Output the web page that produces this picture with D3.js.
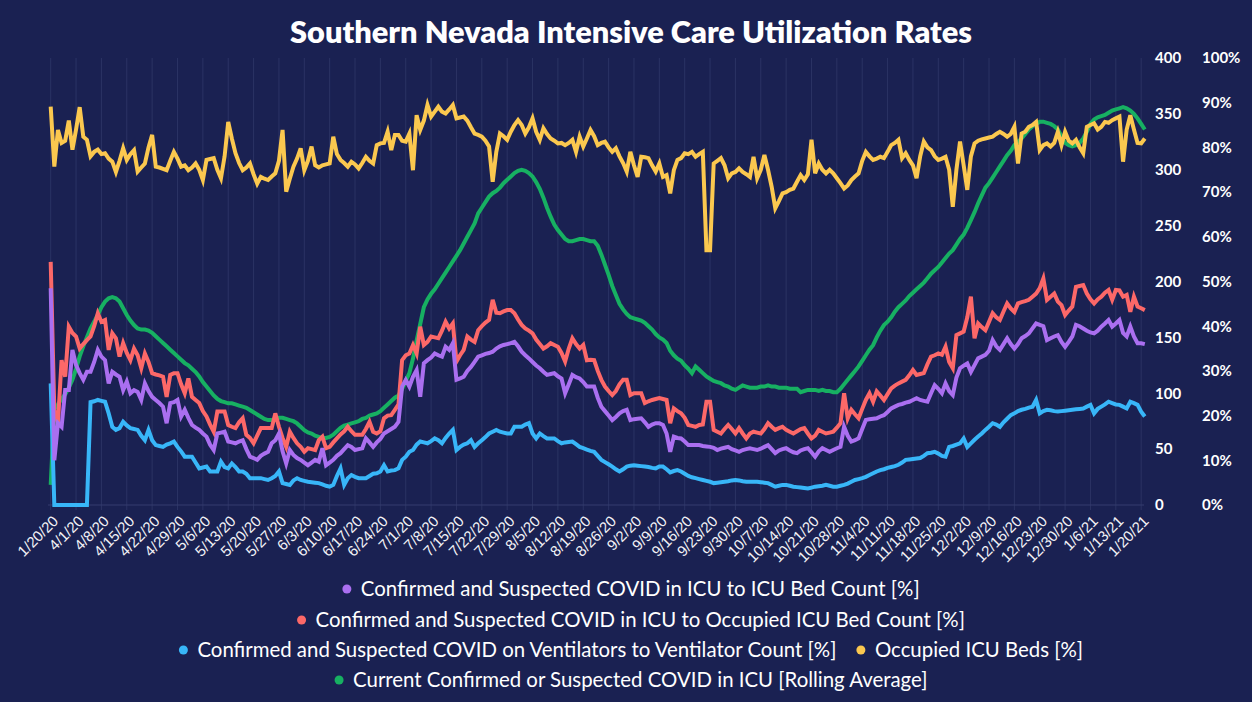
<!DOCTYPE html>
<html>
<head>
<meta charset="utf-8">
<script src="https://cdn.jsdelivr.net/npm/d3@7"></script>
<style>
  body { margin: 0; background: #ffffff; }
  svg { display: block; }
</style>
</head>
<body>
<div id="chart"></div>
<script>
// categories: first point 1/20/20, then daily from 3/26/20 to 1/21/21
const fmtDate = d3.timeFormat('%-m/%-d/%y');
const dates = ['1/20/20'].concat(
  d3.timeDay.range(new Date(2020, 2, 26), new Date(2021, 0, 22)).map(fmtDate)
);

const tickLabels = ['1/20/20','4/1/20','4/8/20','4/15/20','4/22/20','4/29/20','5/6/20','5/13/20',
  '5/20/20','5/27/20','6/3/20','6/10/20','6/17/20','6/24/20','7/1/20','7/8/20','7/15/20','7/22/20',
  '7/29/20','8/5/20','8/12/20','8/19/20','8/26/20','9/2/20','9/9/20','9/16/20','9/23/20','9/30/20',
  '10/7/20','10/14/20','10/21/20','10/28/20','11/4/20','11/11/20','11/18/20','11/25/20','12/2/20',
  '12/9/20','12/16/20','12/23/20','12/30/20','1/6/21','1/13/21','1/20/21'];

const countTicks = [0, 50, 100, 150, 200, 250, 300, 350, 400];
const pctTicks = [0, 10, 20, 30, 40, 50, 60, 70, 80, 90, 100];

// Current Confirmed or Suspected COVID in ICU [Rolling Average] (count, left scale)
const icuRolling = [
  18, 86, 90, 95, 99, 105, 112,
  122, 133, 142, 150, 158, 164, 170,
  177, 182, 185, 186, 185, 182, 176,
  170, 165, 161, 158, 157, 157, 156,
  154, 151, 148, 145, 142, 139, 136,
  133, 130, 127, 125, 122, 119, 115,
  110, 106, 102, 98, 95, 93, 92,
  91, 91, 90, 89, 88, 87, 85,
  83, 81, 79, 77, 76, 76, 77,
  78, 78, 77, 76, 75, 73, 70,
  67, 65, 64, 62, 61, 60, 60,
  61, 63, 66, 69, 71, 72, 73,
  74, 75, 77, 78, 80, 81, 82,
  84, 87, 90, 93, 96, 98, 104,
  111, 118, 131, 147, 162, 177, 184,
  189, 193, 198, 203, 208, 213, 218,
  223, 228, 234, 240, 246, 252, 261,
  266, 271, 276, 279, 281, 284, 288,
  291, 294, 297, 299, 300, 299, 297,
  294, 289, 283, 275, 266, 258, 251,
  246, 242, 238, 236, 236, 237, 238,
  238, 237, 236, 236, 232, 224, 215,
  206, 196, 188, 180, 175, 171, 168,
  167, 166, 165, 163, 160, 157, 153,
  150, 148, 145, 138, 134, 131, 129,
  125, 122, 118, 124, 121, 118, 115,
  113, 111, 110, 109, 107, 106, 104,
  103, 105, 107, 106, 105, 105, 105,
  106, 106, 107, 106, 106, 105, 105,
  105, 104, 104, 104, 101, 102, 103,
  103, 103, 102, 103, 102, 102, 101,
  101, 104, 108, 112, 116, 120, 124,
  129, 134, 139, 143, 150, 156, 161,
  164, 168, 173, 177, 180, 183, 187,
  190, 193, 196, 199, 203, 207, 210,
  213, 217, 221, 225, 228, 233, 238,
  242, 248, 255, 262, 270, 277, 284,
  288, 293, 298, 303, 308, 313, 317,
  322, 325, 328, 332, 336, 339, 341,
  343, 343, 342, 341, 339, 336, 330,
  324, 322, 321, 322, 324, 328, 334,
  341, 345, 347, 348, 349, 351, 353,
  354, 355, 356, 355, 353, 350, 346,
  341, 336
];

// Occupied ICU Beds [%]
const occupiedPct = [
  89.1, 75.7, 83.9, 81.0, 81.5, 86.0, 79.5,
  84.0, 89.0, 82.4, 81.7, 78.0, 79.0, 79.5,
  78.5, 78.7, 77.5, 76.8, 74.5, 77.0, 79.8,
  77.2, 78.5, 79.4, 74.6, 75.5, 76.4, 80.0,
  82.8, 75.7, 75.5, 75.2, 74.9, 77.0, 79.0,
  77.5, 75.7, 76.0, 74.9, 75.5, 76.4, 75.0,
  72.7, 77.2, 77.4, 77.6, 75.0, 73.1, 78.0,
  85.7, 82.0, 78.7, 76.5, 74.9, 75.5, 76.4,
  74.0, 71.9, 73.4, 73.0, 72.7, 73.5, 74.2,
  77.0, 83.9, 70.1, 73.0, 75.7, 77.5, 79.8,
  74.9, 77.0, 80.2, 76.0, 75.5, 76.0, 76.2,
  76.4, 82.4, 78.5, 77.2, 76.5, 75.7, 76.8,
  76.2, 75.3, 76.5, 77.9, 77.0, 76.4, 80.5,
  80.9, 81.0, 83.5, 79.4, 82.8, 82.8, 81.5,
  81.3, 83.1, 74.9, 87.2, 83.9, 86.0, 89.5,
  86.9, 88.0, 89.1, 88.0, 87.6, 88.5, 89.5,
  86.5, 86.7, 86.9, 86.0, 84.5, 83.1, 82.8,
  82.4, 81.5, 80.2, 72.3, 79.0, 83.1, 82.5,
  81.7, 83.5, 85.0, 86.1, 85.0, 83.1, 84.5,
  86.5, 83.5, 81.7, 84.3, 83.0, 82.0, 81.5,
  80.9, 81.0, 80.5, 81.0, 81.7, 79.0, 82.4,
  80.2, 82.0, 83.9, 82.5, 80.5, 81.0, 81.3,
  80.0, 79.0, 79.8, 78.0, 76.5, 74.6, 79.0,
  76.0, 73.4, 77.9, 77.8, 77.6, 76.0, 74.6,
  76.4, 73.4, 73.8, 69.7, 74.9, 77.2, 77.6,
  78.7, 78.5, 79.0, 77.9, 78.5, 79.0, 57.0,
  57.0, 76.4, 77.0, 77.6, 76.0, 73.1, 74.2,
  74.5, 75.3, 74.5, 74.0, 73.4, 77.9, 73.1,
  75.0, 78.3, 75.0, 71.2, 66.4, 68.0, 69.7,
  70.0, 70.5, 70.8, 72.3, 73.8, 72.7, 74.0,
  81.7, 74.2, 76.4, 75.0, 74.2, 75.0, 74.2,
  73.1, 72.0, 70.8, 71.5, 72.7, 73.5, 74.2,
  77.0, 79.0, 78.0, 77.2, 77.5, 77.9, 77.6,
  79.0, 80.5, 81.0, 81.7, 77.6, 78.7, 77.2,
  76.0, 73.1, 78.0, 81.3, 80.0, 79.4, 78.0,
  77.2, 77.5, 77.9, 75.0, 66.7, 75.0, 81.3,
  76.0, 70.5, 78.0, 80.9, 81.5, 81.8, 82.0,
  82.2, 82.4, 83.0, 83.5, 83.0, 82.4, 83.0,
  84.6, 76.4, 83.1, 83.5, 84.6, 85.0, 85.7,
  79.4, 80.5, 80.9, 80.2, 81.0, 83.5, 80.5,
  83.5, 81.5, 80.9, 81.7, 80.0, 78.7, 84.6,
  85.0, 85.4, 84.0, 84.6, 85.7, 85.5, 86.1,
  86.5, 86.9, 76.8, 84.0, 87.2, 84.0, 81.0,
  80.9, 82.0
];

// Confirmed and Suspected COVID in ICU to Occupied ICU Bed Count [%]
const covidOccupiedPct = [
  54.4, 21.3, 18.3, 32.4, 28.7, 39.9, 38.5,
  37.7, 35.0, 36.0, 36.9, 37.7, 40.0, 42.9,
  41.0, 41.4, 34.7, 38.4, 37.3, 33.2, 36.2,
  34.0, 32.4, 35.0, 33.5, 30.6, 33.9, 32.0,
  29.5, 29.2, 29.0, 28.7, 24.2, 29.1, 29.5,
  29.5, 27.0, 25.0, 28.3, 24.2, 23.5, 22.8,
  21.0, 19.8, 18.0, 16.4, 20.9, 20.9, 20.9,
  17.9, 17.5, 17.2, 18.5, 19.4, 15.7, 15.0,
  13.8, 15.5, 17.2, 17.2, 17.2, 17.2, 20.5,
  17.5, 15.0, 13.0, 16.4, 15.0, 13.8, 13.0,
  11.9, 12.7, 12.5, 12.3, 14.5, 15.3, 12.7,
  13.0, 14.0, 14.9, 15.8, 16.5, 17.5, 16.5,
  15.7, 15.7, 15.7, 17.0, 18.6, 16.4, 16.0,
  16.5, 19.4, 20.0, 20.1, 21.3, 22.5, 32.4,
  33.5, 33.9, 35.8, 33.9, 39.9, 35.8, 36.5,
  37.7, 37.5, 37.3, 39.0, 41.0, 39.5, 40.6,
  32.1, 33.5, 34.7, 37.7, 37.0, 36.5, 39.1,
  40.0, 40.8, 41.4, 45.9, 43.0, 42.9, 43.3,
  43.6, 43.6, 42.9, 41.5, 40.3, 39.5, 39.0,
  38.4, 37.0, 36.0, 35.0, 35.5, 36.2, 35.8,
  35.4, 34.0, 32.1, 35.0, 37.3, 36.0, 35.0,
  35.8, 32.4, 32.5, 32.4, 30.0, 28.0, 26.5,
  25.5, 24.6, 25.5, 27.0, 28.0, 28.0, 24.6,
  25.0, 25.0, 25.0, 22.8, 23.2, 23.5, 23.7,
  23.9, 23.7, 23.5, 18.3, 21.6, 21.0, 20.5,
  19.5, 17.9, 17.7, 17.5, 17.9, 18.0, 23.1,
  23.1, 16.8, 16.4, 16.0, 17.0, 17.9, 17.0,
  16.0, 17.2, 16.0, 14.9, 16.0, 16.4, 16.2,
  16.0, 17.0, 18.3, 17.5, 16.8, 17.2, 17.5,
  16.8, 16.4, 16.0, 16.5, 17.0, 17.2, 16.0,
  14.9, 15.5, 16.8, 16.4, 16.0, 16.2, 16.4,
  17.3, 18.3, 25.0, 19.4, 21.3, 20.3, 19.4,
  21.5, 23.5, 25.0, 23.1, 25.4, 24.5, 23.5,
  24.8, 26.1, 26.7, 27.2, 27.6, 28.0, 29.0,
  30.2, 29.1, 29.3, 29.5, 31.5, 33.2, 33.5,
  33.9, 33.6, 35.4, 32.0, 30.6, 38.0, 38.4,
  38.8, 42.0, 46.6, 37.3, 40.6, 39.8, 39.1,
  41.0, 42.9, 42.0, 41.4, 43.3, 45.1, 44.0,
  43.2, 45.1, 45.4, 45.6, 45.9, 46.6, 47.3,
  48.5, 50.7, 45.9, 46.6, 47.3, 45.5, 44.7,
  42.5, 43.5, 44.4, 48.8, 49.0, 49.2, 47.3,
  46.0, 45.1, 46.0, 46.6, 47.5, 48.1, 45.9,
  48.1, 48.0, 46.6, 47.0, 43.2, 46.6, 44.4,
  44.0, 43.6
];

// Confirmed and Suspected COVID in ICU to ICU Bed Count [%]
const covidBedPct = [
  48.5, 10.0, 18.3, 17.5, 25.7, 25.7, 34.7,
  31.3, 29.5, 28.0, 29.8, 29.8, 32.0, 34.7,
  33.2, 32.4, 27.2, 29.8, 29.2, 28.7, 25.7,
  27.6, 25.0, 25.7, 25.3, 23.5, 27.2, 25.5,
  24.2, 23.5, 22.8, 22.0, 18.3, 22.8, 23.0,
  23.5, 19.8, 21.3, 19.5, 17.9, 17.3, 16.8,
  16.0, 15.3, 13.5, 12.3, 16.0, 16.2, 16.4,
  14.2, 14.0, 13.8, 14.2, 14.5, 12.5, 10.8,
  10.5, 10.1, 11.0, 11.5, 11.9, 13.8, 14.5,
  16.0, 12.0, 9.3, 12.3, 11.2, 10.5, 10.1,
  9.5, 8.9, 9.5, 10.1, 9.7, 12.7, 8.9,
  9.5, 10.1, 11.0, 11.6, 12.5, 13.4, 13.0,
  12.3, 12.5, 12.7, 14.9, 14.0, 13.0, 14.0,
  14.8, 16.0, 16.5, 17.0, 17.5, 18.6, 26.5,
  28.0, 26.5, 28.7, 30.2, 24.2, 31.7, 32.4,
  33.0, 33.9, 33.5, 33.2, 35.4, 34.7, 36.2,
  28.0, 28.3, 28.7, 30.0, 30.9, 32.0, 33.2,
  33.5, 33.8, 34.0, 34.3, 35.0, 35.5, 35.8,
  36.0, 36.2, 36.5, 35.5, 34.3, 33.5, 32.8,
  32.0, 31.2, 30.6, 29.8, 29.1, 29.3, 29.5,
  28.8, 28.3, 25.0, 27.0, 29.1, 28.6, 28.3,
  27.5, 26.5, 26.5, 26.5, 24.0, 22.0, 21.0,
  20.0, 19.0, 19.7, 20.5, 21.0, 21.3, 19.0,
  19.2, 19.3, 19.4, 18.5, 17.5, 18.0, 18.3,
  18.3, 17.9, 16.0, 11.9, 15.3, 15.0, 14.9,
  14.2, 13.4, 13.4, 13.4, 13.4, 13.2, 13.1,
  13.0, 12.8, 12.3, 12.6, 12.8, 13.0, 12.5,
  12.2, 11.9, 12.3, 12.5, 12.7, 12.5, 12.3,
  12.6, 13.0, 13.4, 12.5, 11.6, 12.2, 12.5,
  12.7, 12.2, 11.8, 11.6, 12.2, 12.5, 12.7,
  11.8, 10.8, 12.0, 12.7, 12.3, 11.9, 12.3,
  12.7, 13.0, 17.5, 15.5, 14.2, 14.5, 14.9,
  17.0, 19.0, 19.2, 19.3, 19.4, 19.8, 20.1,
  20.8, 21.6, 22.0, 22.4, 22.6, 22.9, 23.1,
  23.5, 23.9, 23.5, 23.3, 23.1, 25.0, 26.8,
  26.0, 25.0, 27.2, 25.5, 24.6, 28.5, 30.6,
  31.2, 31.7, 29.8, 31.3, 32.8, 33.2, 33.6,
  34.5, 36.9, 35.5, 34.7, 36.0, 37.3, 36.0,
  35.0, 36.0, 37.3, 37.8, 38.4, 39.5, 40.6,
  40.3, 40.0, 36.9, 37.3, 37.7, 38.0, 36.5,
  35.4, 36.5, 37.7, 40.3, 40.0, 39.5, 39.0,
  38.6, 38.4, 39.0, 39.9, 40.6, 41.4, 39.9,
  40.6, 41.4, 38.5, 37.7, 39.9, 37.7, 36.2,
  36.2, 36.0
];

// Confirmed and Suspected COVID on Ventilators to Ventilator Count [%]
const ventPct = [
  27.2, 0, 0, 0, 0, 0, 0,
  0, 0, 0, 0, 23.0, 23.2, 23.5,
  23.3, 23.1, 20.5, 17.5, 16.8, 17.2, 18.6,
  17.8, 17.2, 17.0, 16.8, 15.5, 14.5, 16.8,
  14.5, 13.4, 13.2, 13.0, 13.5, 13.8, 14.2,
  13.0, 12.0, 10.8, 10.8, 10.8, 9.5, 8.2,
  8.4, 8.6, 7.5, 7.5, 7.5, 9.7, 8.5,
  8.2, 9.3, 8.5, 7.5, 7.5, 7.0, 6.0,
  6.0, 6.0, 6.0, 5.8, 5.6, 6.0, 6.5,
  7.5, 4.9, 4.7, 4.5, 5.5, 6.0, 5.6,
  5.4, 5.2, 5.1, 5.0, 4.9, 4.6, 4.3,
  4.1, 4.5, 6.5, 8.2, 4.5, 6.0, 6.7,
  6.3, 6.0, 6.0, 6.0, 6.5, 7.0, 7.1,
  7.5, 8.9, 7.5, 7.7, 7.8, 8.2, 10.1,
  10.8, 11.9, 12.3, 13.5, 14.2, 14.0, 13.8,
  14.3, 14.9, 14.5, 13.8, 15.0, 16.0, 16.8,
  12.3, 13.0, 13.5, 13.8, 14.5, 13.0, 13.8,
  14.5, 15.2, 16.0, 16.4, 16.8, 16.4, 16.2,
  16.0, 16.0, 17.5, 17.5, 17.5, 18.0, 18.3,
  16.0, 14.9, 16.0, 15.4, 14.9, 14.9, 14.9,
  14.3, 13.8, 14.0, 14.1, 14.2, 13.6, 13.0,
  12.7, 12.4, 12.1, 11.9, 11.0, 10.1, 9.6,
  9.1, 8.6, 8.0, 7.5, 8.0, 8.6, 8.8,
  8.9, 8.8, 8.7, 8.6, 8.5, 8.3, 8.2,
  8.6, 8.6, 8.0, 7.3, 7.6, 7.8, 7.5,
  7.0, 6.5, 6.2, 6.0, 5.8, 5.6, 5.4,
  5.2, 4.9, 5.0, 5.1, 5.2, 5.3, 5.5,
  5.6, 5.5, 5.3, 5.2, 5.2, 5.2, 5.2,
  5.1, 5.0, 4.9, 4.5, 4.1, 4.3, 4.5,
  4.5, 4.3, 4.1, 4.0, 3.9, 3.8, 3.7,
  3.9, 4.1, 4.2, 4.3, 4.5, 4.3, 4.1,
  4.1, 4.3, 4.5, 4.8, 5.2, 5.6, 5.8,
  6.0, 6.3, 6.7, 7.1, 7.5, 7.8, 8.0,
  8.3, 8.5, 8.7, 9.0, 9.5, 10.1, 10.2,
  10.3, 10.4, 10.5, 11.0, 11.6, 11.7, 11.9,
  11.5, 11.0, 10.8, 13.0, 13.2, 13.5, 13.8,
  14.9, 13.0, 13.8, 14.6, 15.3, 16.0, 16.8,
  17.5, 18.3, 18.0, 17.5, 18.5, 19.3, 20.1,
  20.5, 21.0, 21.3, 21.5, 21.8, 22.0, 23.5,
  20.5, 21.0, 21.3, 21.2, 21.0, 20.9, 21.0,
  21.1, 21.2, 21.3, 21.4, 21.5, 21.6, 22.0,
  22.4, 20.5, 21.5, 22.0, 22.5, 23.1, 22.8,
  22.5, 22.4, 22.0, 21.6, 23.1, 22.8, 22.4,
  20.9, 19.8
];

const legendLabels = [
  'Confirmed and Suspected COVID in ICU to ICU Bed Count [%]',
  'Confirmed and Suspected COVID in ICU to Occupied ICU Bed Count [%]',
  'Confirmed and Suspected COVID on Ventilators to Ventilator Count [%]',
  'Occupied ICU Beds [%]',
  'Current Confirmed or Suspected COVID in ICU [Rolling Average]'
];
const legendColors = ['#aa6ff0', '#fc6868', '#38b6f8', '#fbc84f', '#17b062'];
const legendRows = [[0], [1], [2, 3], [4]];

const W = 1252, H = 702;
const bg = '#1a2152';

const svg = d3.select('#chart').append('svg')
  .attr('width', W)
  .attr('height', H);

svg.append('rect')
  .attr('x', 0).attr('y', 0)
  .attr('width', W).attr('height', H)
  .attr('fill', bg);

const x = d3.scalePoint().domain(dates).range([50.7, 1144.8]);
const yCount = d3.scaleLinear().domain([0, 400]).range([505, 58]);
const yPct = d3.scaleLinear().domain([0, 100]).range([505, 58]);

// grid
svg.append('g')
  .selectAll('line')
  .data(tickLabels)
  .join('line')
  .attr('x1', d => x(d)).attr('x2', d => x(d))
  .attr('y1', yCount(400)).attr('y2', 510)
  .attr('stroke', '#2b3364')
  .attr('stroke-width', 1);

svg.append('line')
  .attr('x1', 48).attr('x2', 1144)
  .attr('y1', yCount(0)).attr('y2', yCount(0))
  .attr('stroke', '#353d6e')
  .attr('stroke-width', 1);

// lines, bottom to top
const series = [
  { values: icuRolling, y: yCount, color: legendColors[4] },
  { values: occupiedPct, y: yPct, color: legendColors[3] },
  { values: ventPct, y: yPct, color: legendColors[2] },
  { values: covidOccupiedPct, y: yPct, color: legendColors[1] },
  { values: covidBedPct, y: yPct, color: legendColors[0] }
];

series.forEach(s => {
  if (s.values.length !== dates.length) {
    svg.append('text').attr('x', 60).attr('y', 80).attr('fill', 'red')
      .text('length mismatch ' + s.values.length + ' / ' + dates.length);
  }
  const line = d3.line()
    .x((d, i) => x(dates[i]))
    .y(d => s.y(d));
  svg.append('path')
    .datum(s.values)
    .attr('d', line)
    .attr('fill', 'none')
    .attr('stroke', s.color)
    .attr('stroke-width', 4)
    .attr('stroke-linejoin', 'miter');
});

// x axis labels
const xAxis = svg.append('g')
  .attr('transform', `translate(0,${yCount(0)})`)
  .call(d3.axisBottom(x).tickValues(tickLabels).tickSize(0));
xAxis.select('.domain').remove();
xAxis.selectAll('text')
  .attr('x', 0).attr('y', 0).attr('dy', 0)
  .attr('transform', 'translate(8,17) rotate(-45)')
  .attr('text-anchor', 'end')
  .attr('fill', '#f2f2f6')
  .style('font-family', '"Liberation Sans", Arial, sans-serif')
  .style('font-size', '15px');

// right side value axes
const countAxis = svg.append('g')
  .attr('transform', 'translate(1155,0)')
  .call(d3.axisRight(yCount).tickValues(countTicks).tickSize(0).tickPadding(0));
const pctAxis = svg.append('g')
  .attr('transform', 'translate(1202,0)')
  .call(d3.axisRight(yPct).tickValues(pctTicks).tickSize(0).tickPadding(0).tickFormat(d => d + '%'));
[countAxis, pctAxis].forEach(a => {
  a.select('.domain').remove();
  a.selectAll('text')
    .attr('fill', '#ffffff')
    .style('font-family', 'Lato, sans-serif')
    .style('font-weight', '700')
    .style('font-size', '15px');
});

// title
const title = svg.append('text')
  .attr('x', 631)
  .attr('y', 43)
  .attr('text-anchor', 'middle')
  .attr('fill', '#ffffff')
  .style('font-family', 'Lato, sans-serif')
  .style('font-weight', '800')
  .style('font-size', '27px')
  .text('Southern Nevada Intensive Care Utilization Rates');
const tw = title.node().getComputedTextLength();
title.style('font-size', (27 * 682 / tw).toFixed(2) + 'px');

// legend
const probe = svg.append('text')
  .style('font-family', 'Lato, sans-serif')
  .style('font-size', '17px')
  .text(legendLabels[0]);
const legendSize = 17 * 559 / probe.node().getComputedTextLength();
probe.remove();

const rowY = [589, 620, 650, 680];
const dotGap = 14, itemGap = 20;
legendRows.forEach((row, r) => {
  const g = svg.append('g');
  let cx = 0;
  row.forEach((k, j) => {
    if (j > 0) cx += itemGap;
    g.append('circle')
      .attr('cx', cx + 4.5).attr('cy', rowY[r])
      .attr('r', 4.5)
      .attr('fill', legendColors[k]);
    const t = g.append('text')
      .attr('x', cx + 4.5 + dotGap)
      .attr('y', rowY[r])
      .attr('dy', '0.35em')
      .attr('fill', '#ffffff')
      .style('font-family', 'Lato, sans-serif')
      .style('font-size', legendSize.toFixed(2) + 'px')
      .text(legendLabels[k]);
    cx += 4.5 + dotGap + t.node().getComputedTextLength();
  });
  g.attr('transform', `translate(${631 - cx / 2},0)`);
});
</script>
</body>
</html>
